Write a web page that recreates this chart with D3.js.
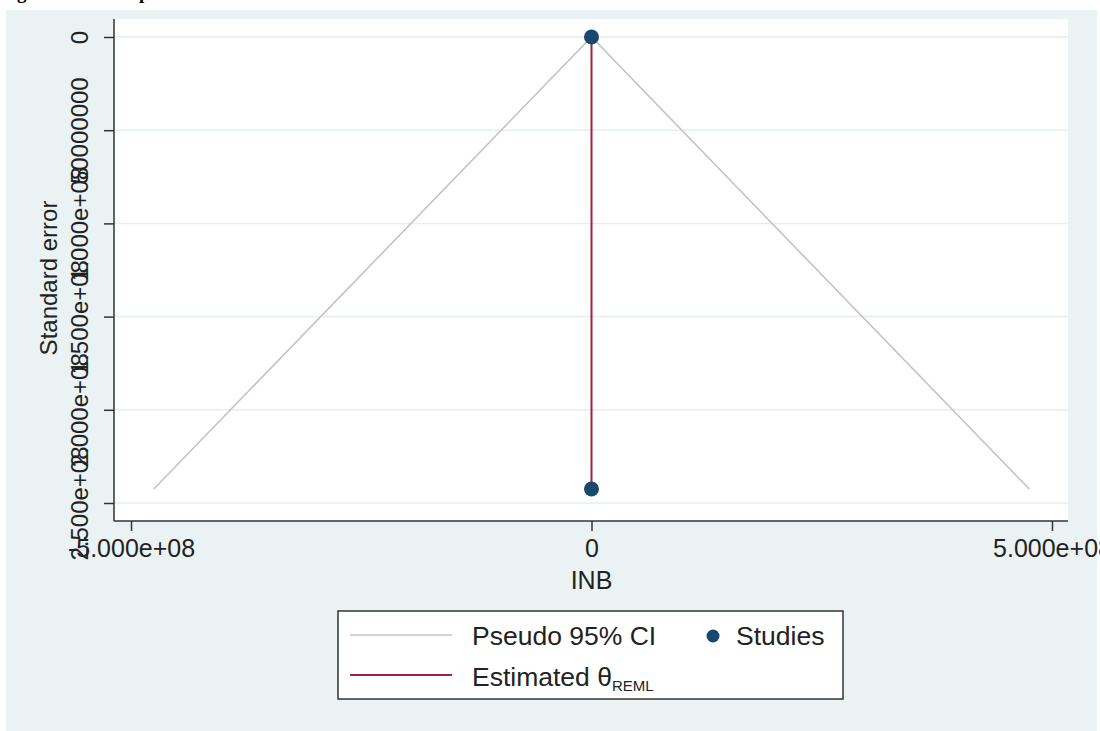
<!DOCTYPE html>
<html>
<head>
<meta charset="utf-8">
<script src="https://cdn.jsdelivr.net/npm/d3@7"></script>
<style>
  body { margin: 0; background: #fff; }
  text { font-family: "Liberation Sans", Arial, sans-serif; fill: #222; }
</style>
</head>
<body>
<div id="chart"></div>
<script>
// funnel plot data
const studyINB = [0, 0];
const studySE = [0, 2.425e8];
const thetaREML = 0;
const seMax = 2.425e8;
const yTicks = [0, 5e7, 1e8, 1.5e8, 2e8, 2.5e8];
const yTickLabels = ["0", "50000000", "1.000e+08", "1.500e+08", "2.000e+08", "2.500e+08"];
const xTicks = [-5e8, 0, 5e8];
const xTickLabels = ["-5.000e+08", "0", "5.000e+08"];

const W = 1100, H = 731;
const plot = { left: 114, right: 1068, top: 19, bottom: 521 };

const svg = d3.select("#chart").append("svg")
  .attr("width", W).attr("height", H);

// caption above the figure, cut off by the page edge
svg.append("text")
  .attr("x", 0).attr("y", -1)
  .style("font-family", "'Liberation Serif', 'Times New Roman', serif")
  .style("font-weight", "bold")
  .style("font-size", "19px")
  .style("fill", "#000")
  .text("Figure 3. Funnel plot");

// graph region
svg.append("rect")
  .attr("x", 6).attr("y", 10)
  .attr("width", 1091).attr("height", H - 10)
  .attr("fill", "#eaf2f3");

svg.append("rect")
  .attr("x", plot.left).attr("y", plot.top)
  .attr("width", plot.right - plot.left).attr("height", plot.bottom - plot.top)
  .attr("fill", "#fff");

const x = d3.scaleLinear().domain([-5e8, 5e8]).range([131, 1052]);
const y = d3.scaleLinear().domain([0, 2.5e8]).range([37, 503]);

// gridlines
svg.append("g").selectAll("line")
  .data(yTicks)
  .enter().append("line")
  .attr("x1", plot.left).attr("x2", plot.right)
  .attr("y1", d => y(d)).attr("y2", d => y(d))
  .attr("stroke", "#e6eef0")
  .attr("stroke-width", 1.5);

// pseudo 95% CI
const funnel = [
  [thetaREML - 1.96 * seMax, seMax],
  [thetaREML, 0],
  [thetaREML + 1.96 * seMax, seMax]
];
svg.append("path")
  .datum(funnel)
  .attr("d", d3.line().x(d => x(d[0])).y(d => y(d[1])))
  .attr("fill", "none")
  .attr("stroke", "#c4c4c4")
  .attr("stroke-width", 1.6);

// estimated theta
svg.append("line")
  .attr("x1", x(thetaREML)).attr("x2", x(thetaREML))
  .attr("y1", y(0)).attr("y2", y(seMax))
  .attr("stroke", "#a4203f")
  .attr("stroke-width", 2);

// studies
svg.append("g").selectAll("circle")
  .data(studyINB.map((v, i) => [v, studySE[i]]))
  .enter().append("circle")
  .attr("cx", d => x(d[0]))
  .attr("cy", d => y(d[1]))
  .attr("r", 7.5)
  .attr("fill", "#1a476f");

// axes
const yAxis = svg.append("g")
  .attr("transform", `translate(${plot.left},0)`)
  .call(d3.axisLeft(y).tickValues(yTicks).tickSize(10)
    .tickFormat((d, i) => yTickLabels[i]));
yAxis.select(".domain").attr("d", `M0,${plot.top}V${plot.bottom}`);
yAxis.selectAll(".tick text")
  .attr("x", null).attr("dy", null)
  .attr("transform", "translate(-26,0) rotate(-90)")
  .attr("text-anchor", "middle")
  .style("font-size", "24px");

const xAxis = svg.append("g")
  .attr("transform", `translate(0,${plot.bottom})`)
  .call(d3.axisBottom(x).tickValues(xTicks).tickSize(10)
    .tickFormat((d, i) => xTickLabels[i]));
xAxis.select(".domain").attr("d", `M${plot.left},0H${plot.right}`);
xAxis.selectAll(".tick text")
  .attr("y", 36).attr("dy", null)
  .style("font-size", "25px");

svg.selectAll(".domain, .tick line")
  .attr("stroke", "#333")
  .attr("stroke-width", 1.5);
svg.selectAll(".tick text").attr("fill", "#222").style("font-family", null);

// axis titles
svg.append("text")
  .attr("transform", "translate(57,278) rotate(-90)")
  .attr("text-anchor", "middle")
  .style("font-size", "24px")
  .text("Standard error");

svg.append("text")
  .attr("x", x(0)).attr("y", 589)
  .attr("text-anchor", "middle")
  .style("font-size", "25px")
  .text("INB");

// legend
const lg = svg.append("g");
lg.append("rect")
  .attr("x", 338).attr("y", 611)
  .attr("width", 505).attr("height", 88)
  .attr("fill", "#fff")
  .attr("stroke", "#333")
  .attr("stroke-width", 1.5);

lg.append("line")
  .attr("x1", 350).attr("x2", 452).attr("y1", 635).attr("y2", 635)
  .attr("stroke", "#c4c4c4").attr("stroke-width", 1.6);
lg.append("text")
  .attr("x", 472).attr("y", 645)
  .style("font-size", "26.5px")
  .text("Pseudo 95% CI");

lg.append("circle")
  .attr("cx", 713).attr("cy", 636).attr("r", 6.5)
  .attr("fill", "#1a476f");
lg.append("text")
  .attr("x", 736).attr("y", 645)
  .style("font-size", "26.5px")
  .text("Studies");

lg.append("line")
  .attr("x1", 350).attr("x2", 452).attr("y1", 675).attr("y2", 675)
  .attr("stroke", "#a4203f").attr("stroke-width", 2);
const est = lg.append("text")
  .attr("x", 472).attr("y", 686)
  .style("font-size", "26.5px");
est.append("tspan").text("Estimated θ");
est.append("tspan")
  .attr("dy", 5)
  .style("font-size", "15px")
  .text("REML");
</script>
</body>
</html>
